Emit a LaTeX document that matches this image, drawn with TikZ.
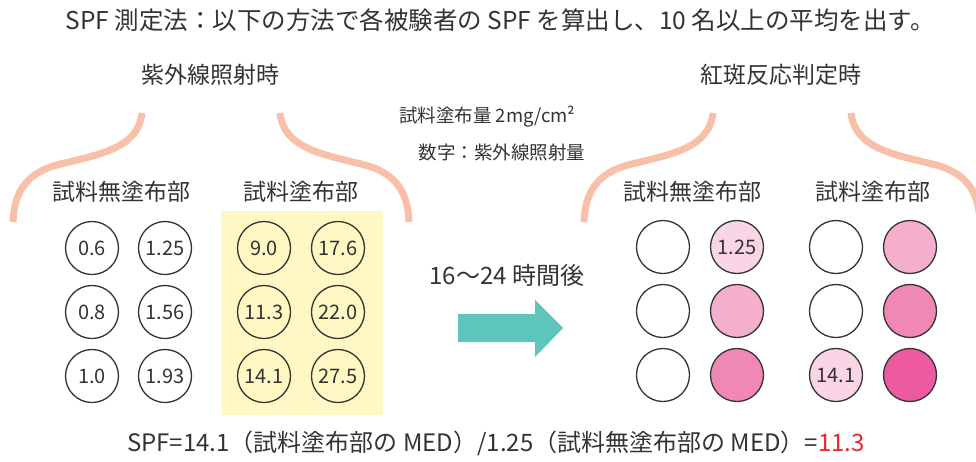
\documentclass[tikz,border=0pt]{standalone}
\usepackage{fontspec}
\setmainfont{Noto Sans CJK JP}
\definecolor{textgray}{HTML}{333333}
\definecolor{bracepeach}{HTML}{F8C0A8}
\definecolor{paleyellow}{HTML}{FFF8C4}
\definecolor{arrowteal}{HTML}{5CC5BC}
\definecolor{pinkA}{HTML}{F9D5E6}
\definecolor{pinkB}{HTML}{F4AFCD}
\definecolor{pinkC}{HTML}{F088B5}
\definecolor{pinkD}{HTML}{EE5A9F}
\definecolor{spfred}{HTML}{E8262E}

\begin{document}
\begin{tikzpicture}[x=1pt,y=-1pt,
  every node/.style={text=textgray},
  dot/.style={circle,draw=textgray,line width=1.3pt,minimum size=53pt,inner sep=0pt,font=\fontsize{20}{20}\selectfont},
  head/.style={font=\fontsize{23}{23}\selectfont},
  note/.style={font=\fontsize{18.5}{18.5}\selectfont},
  brace/.style={draw=bracepeach,line width=7pt}]

  \useasboundingbox (0,0) rectangle (976,461);

  % titles
  \node[head,font=\fontsize{24.5}{24.5}\selectfont] (title) at (500,20) {SPF 測定法：以下の方法で各被験者の SPF を算出し、10 名以上の平均を出す。};
  \node[head] (uv) at (210,75) {紫外線照射時};
  \node[head] (judge) at (781,75) {紅斑反応判定時};

  \foreach \s in {0,571}
    \draw[brace,xshift=\s] (142,113) .. controls (138,150) and (95,155) .. (57,165)
      .. controls (20,175) and (14,200) .. (13,222)
      (280,113) .. controls (284,150) and (327,155) .. (365,165)
      .. controls (402,175) and (408,200) .. (409,222);

  \node[head] (lbare) at (121,192) {試料無塗布部};
  \node[head] (lcoat) at (301,192) {試料塗布部};
  \node[head] (rbare) at (692,192) {試料無塗布部};
  \node[head] (rcoat) at (873,192) {試料塗布部};

  \node[note,anchor=east] (dose) at (579,117) {試料塗布量 2mg/cm²};
  \node[note,anchor=east] (key) at (589,152) {数字：紫外線照射量};

  % irradiation
  \fill[paleyellow] (221,211) rectangle (383,415);
  \foreach \a/\b/\c/\d [count=\r] in {0.6/1.25/9.0/17.6,0.8/1.56/11.3/22.0,1.0/1.93/14.1/27.5} {
    \node[dot] (ua\r) at (92,{184+64*\r}) {\a};
    \node[dot] (ub\r) at (165,{184+64*\r}) {\b};
    \node[dot] (uc\r) at (264,{184+64*\r}) {\c};
    \node[dot] (ud\r) at (338,{184+64*\r}) {\d};
  }

  % 16-24 h later
  \node[head,font=\fontsize{24}{24}\selectfont] (wait) at (507,275) {16〜24 時間後};
  \fill[arrowteal] (458,314) -- (535,314) -- (535,300) -- (563,328)
    -- (535,357) -- (535,342) -- (458,342) -- cycle;

  % erythema
  \foreach \fb/\tb/\fc/\tc/\fd [count=\r] in {pinkA/1.25/white/{}/pinkB,pinkB/{}/white/{}/pinkC,pinkC/{}/pinkA/14.1/pinkD} {
    \node[dot,fill=white] (ea\r) at (663,{183+64*\r}) {};
    \node[dot,fill=\fb] (eb\r) at (737,{183+64*\r}) {\tb};
    \node[dot,fill=\fc] (ec\r) at (836,{183+64*\r}) {\tc};
    \node[dot,fill=\fd] (ed\r) at (910,{183+64*\r}) {};
  }

  \node[head,font=\fontsize{24}{24}\selectfont] (spf) at (496,443) {SPF=14.1（試料塗布部の MED）/1.25（試料無塗布部の MED）=\textcolor{spfred}{11.3}};
\end{tikzpicture}
\end{document}
